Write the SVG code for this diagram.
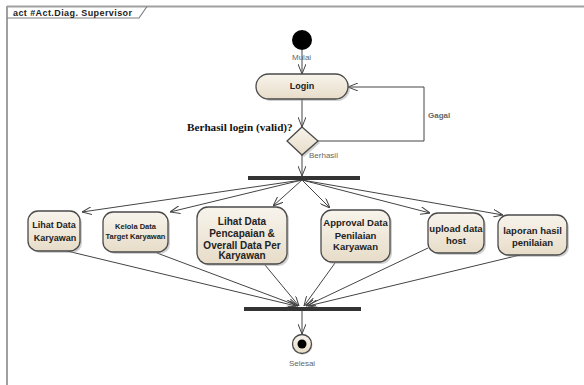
<svg xmlns="http://www.w3.org/2000/svg" width="584" height="385" viewBox="0 0 584 385">
<defs>
<linearGradient id="g" x1="0" y1="0" x2="0" y2="1">
<stop offset="0" stop-color="#f8f4ec"/>
<stop offset="1" stop-color="#e7dcc8"/>
</linearGradient>
<marker id="a" viewBox="0 0 10 8" refX="10" refY="4" markerWidth="10" markerHeight="8" markerUnits="userSpaceOnUse" orient="auto">
<path d="M0,0 L10,4 L0,8" fill="none" stroke="#444" stroke-width="1"/>
</marker>
<style>
.box{fill:url(#g);stroke:#4a4a4a;stroke-width:1.3}
.sh{fill:#999;opacity:0.45}
.t{font-family:"Liberation Sans",Arial,sans-serif;font-weight:bold;fill:#222;text-anchor:middle}
.lbl{font-family:"Liberation Sans",Arial,sans-serif;fill:#666;font-size:8px}
.c{fill:none;stroke:#444;stroke-width:1;marker-end:url(#a)}
.bar{fill:#333}
</style>
</defs>
<rect width="584" height="385" fill="#fff"/>
<g id="frame">
<line x1="7" y1="6.5" x2="584" y2="6.5" stroke="#a0a0a0" stroke-width="2"/>
<line x1="7" y1="6" x2="7" y2="385" stroke="#a0a0a0" stroke-width="2"/>
<path d="M7,18 L139,18 L147,6.5" fill="none" stroke="#808080" stroke-width="1.2"/>
<text x="13" y="15.5" font-family="Liberation Sans,Arial,sans-serif" font-weight="bold" font-size="9" fill="#222" textLength="119" lengthAdjust="spacing">act #Act.Diag. Supervisor</text>
</g>
<g id="connectors">
<line class="c" x1="302" y1="50" x2="302" y2="74"/>
<line class="c" x1="302" y1="99" x2="302" y2="127"/>
<polyline class="c" points="317,141 424,141 424,87 348,87"/>
<line class="c" x1="302" y1="155" x2="302" y2="176"/>
<line class="c" x1="302" y1="180" x2="82" y2="212"/>
<line class="c" x1="302" y1="180" x2="170" y2="212"/>
<line class="c" x1="302" y1="180" x2="273" y2="206"/>
<line class="c" x1="302" y1="180" x2="330" y2="208"/>
<line class="c" x1="302" y1="180" x2="430" y2="213"/>
<line class="c" x1="302" y1="180" x2="503" y2="215"/>
<line class="c" x1="67" y1="251" x2="296" y2="306"/>
<line class="c" x1="157" y1="253" x2="298" y2="306"/>
<line class="c" x1="265" y1="265" x2="299" y2="306"/>
<line class="c" x1="335" y1="263" x2="304" y2="306"/>
<line class="c" x1="428" y1="248" x2="306" y2="306"/>
<line class="c" x1="520" y1="255" x2="308" y2="306"/>
<line class="c" x1="302" y1="311" x2="302" y2="334"/>
<text class="lbl" x="292" y="60">Mulai</text>
<text class="lbl" x="428" y="118" font-weight="bold" fill="#555">Gagal</text>
<text class="lbl" x="309" y="158">Berhasil</text>
</g>
<g id="start"><circle cx="302" cy="40" r="10" fill="#000"/></g>
<g id="login">
<rect class="sh" x="258" y="76" width="92" height="25" rx="12.5"/>
<rect class="box" x="256" y="74" width="92" height="25" rx="12.5"/>
<text class="t" x="302" y="89" font-size="9">Login</text>
</g>
<g id="decision">
<polygon points="304,129 320,143 304,157 289,143" fill="#999" opacity="0.45"/>
<polygon points="302,127 318,141 302,155 287,141" fill="url(#g)" stroke="#4a4a4a" stroke-width="1.3"/>
<text x="187" y="131" font-family="Liberation Serif,Times New Roman,serif" font-weight="bold" font-size="11.2" fill="#111">Berhasil login (valid)?</text>
</g>
<g id="fork"><rect class="bar" x="248" y="176" width="112" height="4"/></g>
<g id="a1">
<rect class="sh" x="30" y="213" width="52" height="40" rx="10"/>
<rect class="box" x="28" y="211" width="52" height="40" rx="10"/>
<text class="t" x="54" y="228" font-size="9">Lihat Data</text>
<text class="t" x="55" y="241" font-size="9">Karyawan</text>
</g>
<g id="a2">
<rect class="sh" x="105" y="214" width="65" height="40" rx="10"/>
<rect class="box" x="103" y="212" width="65" height="40" rx="10"/>
<text class="t" x="135.5" y="229" font-size="7.5">Kelola Data</text>
<text class="t" x="135.5" y="238.5" font-size="7.5">Target Karyawan</text>
</g>
<g id="a3">
<rect class="sh" x="199" y="209" width="90" height="57" rx="11"/>
<rect class="box" x="197" y="207" width="90" height="57" rx="11"/>
<text class="t" x="242" y="225" font-size="10">Lihat Data</text>
<text class="t" x="242" y="237" font-size="10">Pencapaian &amp;</text>
<text class="t" x="242" y="249" font-size="10">Overall Data Per</text>
<text class="t" x="242" y="259" font-size="10">Karyawan</text>
</g>
<g id="a4">
<rect class="sh" x="323" y="212" width="69" height="52" rx="11"/>
<rect class="box" x="321" y="210" width="69" height="52" rx="11"/>
<text class="t" x="355.5" y="226" font-size="9.5">Approval Data</text>
<text class="t" x="355.5" y="239" font-size="9.5">Penilaian</text>
<text class="t" x="355.5" y="250" font-size="9.5">Karyawan</text>
</g>
<g id="a5">
<rect class="sh" x="430" y="215" width="56" height="40" rx="10"/>
<rect class="box" x="428" y="213" width="56" height="40" rx="10"/>
<text class="t" x="456" y="232" font-size="9.5">upload data</text>
<text class="t" x="456" y="244" font-size="9.5">host</text>
</g>
<g id="a6">
<rect class="sh" x="500" y="217" width="69" height="40" rx="10"/>
<rect class="box" x="498" y="215" width="69" height="40" rx="10"/>
<text class="t" x="532.5" y="234" font-size="9.5">laporan hasil</text>
<text class="t" x="532.5" y="246" font-size="9.5">penilaian</text>
</g>
<g id="join"><rect class="bar" x="244" y="307" width="117" height="4"/></g>
<g id="end">
<circle cx="303" cy="345" r="9.5" fill="#999" opacity="0.45"/>
<circle cx="302" cy="344" r="9.5" fill="url(#g)" stroke="#4a4a4a" stroke-width="1.3"/>
<circle cx="302" cy="344" r="4.5" fill="#000"/>
<text class="lbl" x="302" y="366" text-anchor="middle">Selesai</text>
</g>
</svg>
